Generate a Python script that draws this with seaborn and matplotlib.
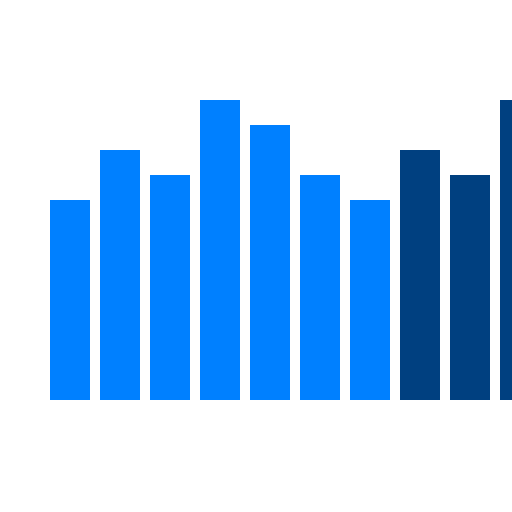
import matplotlib
matplotlib.use("Agg")
import matplotlib.pyplot as plt
import seaborn as sns
import pandas as pd

categories = ["A", "B", "C", "D", "E", "F", "G", "H", "I", "J"]
values = [8, 10, 9, 12, 11, 9, 8, 10, 9, 12]
groups = ["light"] * 7 + ["dark"] * 3

df = pd.DataFrame({"cat": categories, "val": values, "grp": groups})

fig = plt.figure(figsize=(5.12, 5.12), dpi=100)
ax = fig.add_axes([0, 0, 1, 1])
sns.barplot(data=df, x="cat", y="val", hue="grp",
            palette={"light": "#0080ff", "dark": "#004080"},
            dodge=False, width=0.8, saturation=1, legend=False, ax=ax)
ax.set_xlim(-1.4, 8.84)
ax.set_ylim(-4.48, 16)
ax.axis("off")
fig.savefig("out.png", dpi=100, facecolor="white")
